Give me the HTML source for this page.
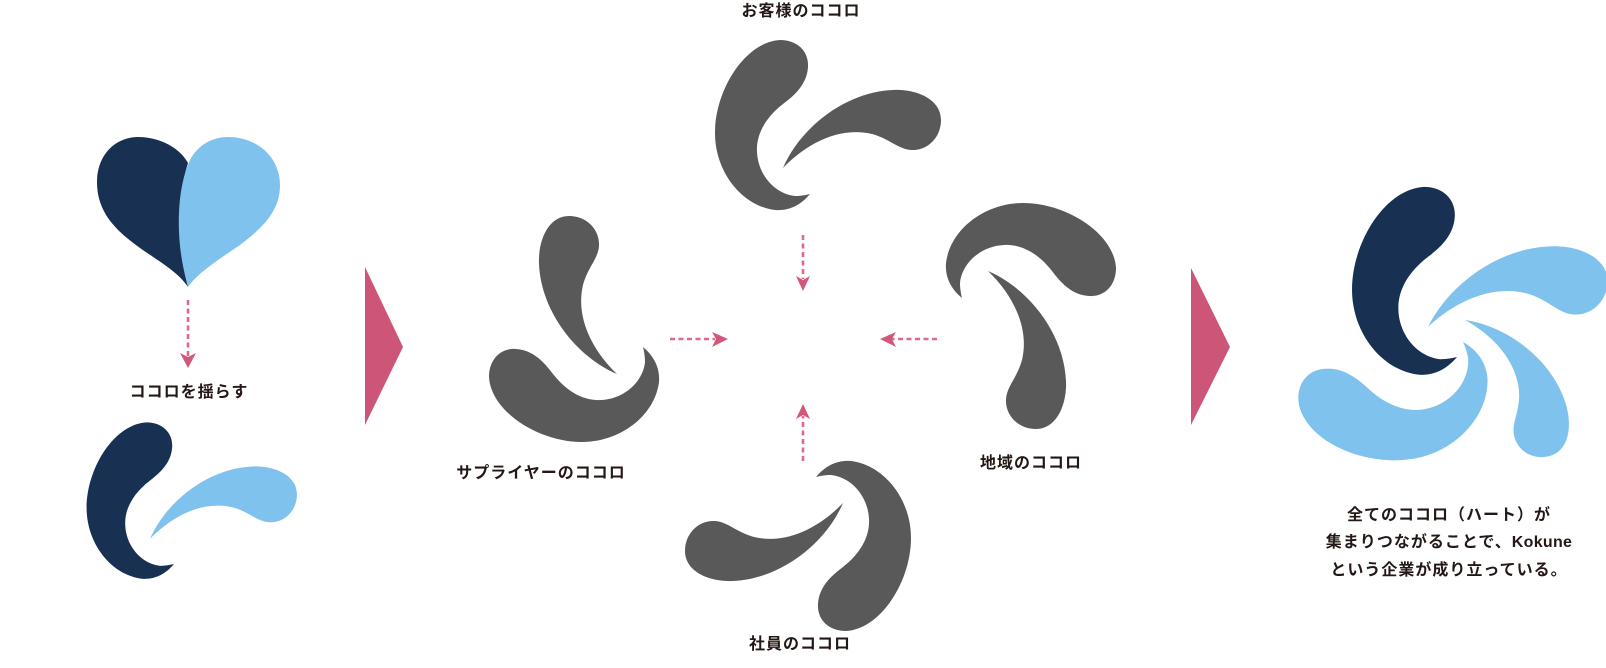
<!DOCTYPE html>
<html><head><meta charset="utf-8">
<style>
html,body{margin:0;padding:0;background:#fff;}
svg{display:block;}
text{font-family:"Liberation Sans","Noto Sans CJK JP",sans-serif;font-weight:bold;font-size:16px;fill:#231815;letter-spacing:1px;}
</style></head><body>
<svg width="1606" height="668" viewBox="0 0 1606 668" xmlns="http://www.w3.org/2000/svg">

<!-- Heart -->
<path fill="#183153" d="M188,287 C178,272 160,262 140,248 C115,230 97,212 97,182 C97,155 115,137 138,137 C160,137 180,148 188,163 C181,185 178,212 180,240 C182,260 185,275 188,287 Z"/>
<path fill="#80c2ee" d="M188,287 C184,272 180,255 179,232 C178,205 181,180 190,160 C198,145 212,137 228,137 C258,137 280,158 280,185 C280,212 262,228 240,245 C215,262 198,273 188,287 Z"/>

<!-- heart arrow -->
<line x1="188" y1="300" x2="188" y2="356" stroke="#e06890" stroke-width="2.6" stroke-dasharray="5 3.5"/>
<polygon fill="#d0587a" points="180,353 188,357 196,353 188,368"/>

<text x="189" y="397" text-anchor="middle">ココロを揺らす</text>

<!-- swayed pair -->
<path fill="#183153" transform="translate(174,564) scale(0.92) translate(-810,-194)" d="M810,194 C800,206 788,211 775,210 C742,206 715,172 715,133 C715,90 745,42 780,40 C798,40 809,52 808,67 C807,84 795,95 783,104 C765,118 756,135 757,152 C758,175 775,194 795,196 C801,196 806,195 810,194 Z"/>
<path fill="#80c2ee" transform="translate(150,539) scale(0.93) translate(-783,-168)" d="M783,168 C800,128 845,92 893,90 C918,89 941,100 941,120 C941,138 927,151 911,150 C898,149 890,139 872,134 C838,126 805,145 783,168 Z"/>

<!-- pink triangles -->
<polygon fill="#cd5577" points="365,267 365,425 403,347"/>
<polygon fill="#cd5577" points="1191,268 1191,425 1230,347"/>

<!-- middle: top pair -->
<g fill="#595959">
  <path d="M810,194 C800,206 788,211 775,210 C742,206 715,172 715,133 C715,90 745,42 780,40 C798,40 809,52 808,67 C807,84 795,95 783,104 C765,118 756,135 757,152 C758,175 775,194 795,196 C801,196 806,195 810,194 Z"/>
  <path d="M783,168 C800,128 845,92 893,90 C918,89 941,100 941,120 C941,138 927,151 911,150 C898,149 890,139 872,134 C838,126 805,145 783,168 Z"/>
</g>
<!-- right pair -->
<g fill="#595959" transform="translate(1156,-512) rotate(90)">
  <path d="M810,194 C800,206 788,211 775,210 C742,206 715,172 715,133 C715,90 745,42 780,40 C798,40 809,52 808,67 C807,84 795,95 783,104 C765,118 756,135 757,152 C758,175 775,194 795,196 C801,196 806,195 810,194 Z"/>
  <path d="M783,168 C800,128 845,92 893,90 C918,89 941,100 941,120 C941,138 927,151 911,150 C898,149 890,139 872,134 C838,126 805,145 783,168 Z"/>
</g>
<!-- bottom pair -->
<g fill="#595959" transform="translate(1626,671) rotate(180)">
  <path d="M810,194 C800,206 788,211 775,210 C742,206 715,172 715,133 C715,90 745,42 780,40 C798,40 809,52 808,67 C807,84 795,95 783,104 C765,118 756,135 757,152 C758,175 775,194 795,196 C801,196 806,195 810,194 Z"/>
  <path d="M783,168 C800,128 845,92 893,90 C918,89 941,100 941,120 C941,138 927,151 911,150 C898,149 890,139 872,134 C838,126 805,145 783,168 Z"/>
</g>
<!-- left pair -->
<g fill="#595959" transform="translate(449,1157) rotate(-90)">
  <path d="M810,194 C800,206 788,211 775,210 C742,206 715,172 715,133 C715,90 745,42 780,40 C798,40 809,52 808,67 C807,84 795,95 783,104 C765,118 756,135 757,152 C758,175 775,194 795,196 C801,196 806,195 810,194 Z"/>
  <path d="M783,168 C800,128 845,92 893,90 C918,89 941,100 941,120 C941,138 927,151 911,150 C898,149 890,139 872,134 C838,126 805,145 783,168 Z"/>
</g>

<!-- middle arrows -->
<g stroke="#e06890" stroke-width="2.6" stroke-dasharray="5 3.5">
  <line x1="803" y1="235" x2="803" y2="279"/>
  <line x1="803" y1="461" x2="803" y2="416"/>
  <line x1="670" y1="339" x2="715" y2="339"/>
  <line x1="937" y1="339" x2="892" y2="339"/>
</g>
<g fill="#d0587a">
  <polygon points="796,276 803,280 810,276 803,291"/>
  <polygon points="796,419 803,415 810,419 803,404"/>
  <polygon points="712,332 716,339 712,347 728,339"/>
  <polygon points="896,332 892,339 896,347 880,339"/>
</g>

<!-- labels -->
<text x="801" y="16" text-anchor="middle">お客様のココロ</text>
<text x="541" y="478" text-anchor="middle">サプライヤーのココロ</text>
<text x="1031" y="468" text-anchor="middle">地域のココロ</text>
<text x="800" y="649" text-anchor="middle">社員のココロ</text>

<!-- final logo -->
<path fill="#183153" transform="translate(1457,357) scale(1.105) translate(-810,-194)" d="M810,194 C800,206 788,211 775,210 C742,206 715,172 715,133 C715,90 745,42 780,40 C798,40 809,52 808,67 C807,84 795,95 783,104 C765,118 756,135 757,152 C758,175 775,194 795,196 C801,196 806,195 810,194 Z"/>
<path fill="#80c2ee" transform="translate(1428,327) rotate(3) scale(1.12) translate(-783,-168)" d="M783,168 C800,128 845,92 893,90 C918,89 941,100 941,120 C941,138 927,151 911,150 C898,149 890,139 872,134 C838,126 805,145 783,168 Z"/>
<path fill="#80c2ee" transform="translate(1465,320) rotate(75) scale(0.97) translate(-783,-168)" d="M783,168 C800,128 845,92 893,90 C918,89 941,100 941,120 C941,138 927,151 911,150 C898,149 890,139 872,134 C838,126 805,145 783,168 Z"/>
<path fill="#80c2ee" transform="translate(1463,342) rotate(-100) scale(1.12) translate(-810,-194)" d="M810,194 C800,206 788,211 775,210 C742,206 715,172 715,133 C715,90 745,42 780,40 C798,40 809,52 808,67 C807,84 795,95 783,104 C765,118 756,135 757,152 C758,175 775,194 795,196 C801,196 806,195 810,194 Z"/>

<text x="1449" y="520" text-anchor="middle">全てのココロ（ハート）が</text>
<text x="1449" y="547" text-anchor="middle">集まりつながることで、<tspan style="letter-spacing:0.3px">Kokune</tspan></text>
<text x="1449" y="575" text-anchor="middle">という企業が成り立っている。</text>
</svg>
</body></html>
